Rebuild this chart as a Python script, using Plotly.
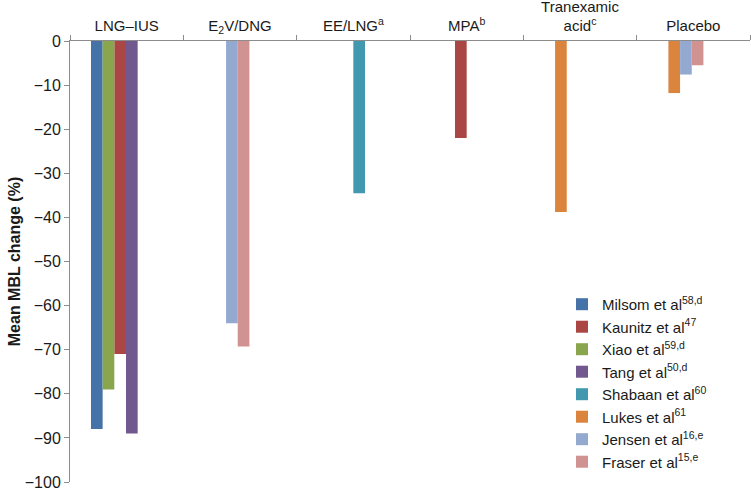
import plotly.graph_objects as go

# ---- data ----
category_keys = ["LNG-IUS", "E2V/DNG", "EE/LNG", "MPA", "Tranexamic acid", "Placebo"]
category_labels = ["LNG–IUS", "E<sub>2</sub>V/DNG", "EE/LNG<sup>a</sup>", "MPA<sup>b</sup>",
                   "Tranexamic<br>acid<sup>c</sup>", "Placebo"]

milsom  = [-88, None, None, None, None, None]
kaunitz = [-71, None, None, -22, None, None]
xiao    = [-79, None, None, None, None, None]
tang    = [-89, None, None, None, None, None]
shabaan = [None, None, -34.5, None, None, None]
lukes   = [None, None, None, None, -38.8, -11.8]
jensen  = [None, -64, None, None, None, -7.6]
fraser  = [None, -69.3, None, None, None, -5.5]

series_names = ["Milsom et al<sup>58,d</sup>", "Kaunitz et al<sup>47</sup>", "Xiao et al<sup>59,d</sup>",
                "Tang et al<sup>50,d</sup>", "Shabaan et al<sup>60</sup>", "Lukes et al<sup>61</sup>",
                "Jensen et al<sup>16,e</sup>", "Fraser et al<sup>15,e</sup>"]
series_values = [milsom, kaunitz, xiao, tang, shabaan, lukes, jensen, fraser]

# ---- style / layout ----
colors = ["#4572A7", "#AA4643", "#89A54E", "#71588F", "#4198AF", "#DB843D", "#93A9CF", "#D19392"]
# order of bars inside a cluster (indices into series list)
cluster_order = [0, 2, 1, 3, 4, 5, 6, 7]
# left edge of each cluster, as fraction of category width
cluster_left = [0.185, 0.377, 0.5, 0.397, 0.28, 0.28]
bar_w = 0.103

FONT = "Liberation Sans, Arial, sans-serif"

fig = go.Figure()
for s_idx, (name, vals, col) in enumerate(zip(series_names, series_values, colors)):
    xs, ys, offs = [], [], []
    for c_idx, v in enumerate(vals):
        if v is None:
            continue
        present = [k for k in cluster_order if series_values[k][c_idx] is not None]
        pos = present.index(s_idx)
        xs.append(category_keys[c_idx])
        ys.append(v)
        offs.append(cluster_left[c_idx] - 0.5 + pos * bar_w)
    fig.add_trace(go.Bar(
        x=xs, y=ys, name=name, offset=offs, width=bar_w,
        marker=dict(color=col, line=dict(width=0)),
    ))

axis_col = "#8C8C8C"
fig.update_layout(
    width=751, height=488,
    barmode="overlay",
    plot_bgcolor="white", paper_bgcolor="white",
    margin=dict(l=70, r=1, t=41, b=6),
    font=dict(family=FONT, size=15, color="#1a1a1a"),
    xaxis=dict(
        type="category", categoryorder="array", categoryarray=category_keys,
        tickvals=category_keys, ticktext=category_labels,
        side="top", range=[-0.5, 5.5], automargin=False,
        showline=True, linecolor=axis_col, linewidth=1,
        ticks="outside", tickson="boundaries", ticklen=5, tickcolor=axis_col,
        showgrid=False, zeroline=False,
        tickfont=dict(size=15), ticklabelstandoff=3,
        ticklabeloverflow="allow",
    ),
    yaxis=dict(
        range=[-100, 0], dtick=10, tick0=0, automargin=False,
        showline=True, linecolor=axis_col, linewidth=1,
        ticks="outside", ticklen=5, tickcolor=axis_col,
        showgrid=False, zeroline=False,
        tickfont=dict(size=16), ticklabeloverflow="allow",
        title=dict(text="<b>Mean MBL change (%)</b>", font=dict(size=16), standoff=0),
    ),
    legend=dict(
        x=0.7235, y=0.44, xanchor="left", yanchor="top",
        bgcolor="rgba(0,0,0,0)", font=dict(size=15),
        tracegroupgap=0,
    ),
    showlegend=True,
)

fig.write_html("out.html", config={"displayModeBar": False},
               post_script="document.body.style.margin='0';")
